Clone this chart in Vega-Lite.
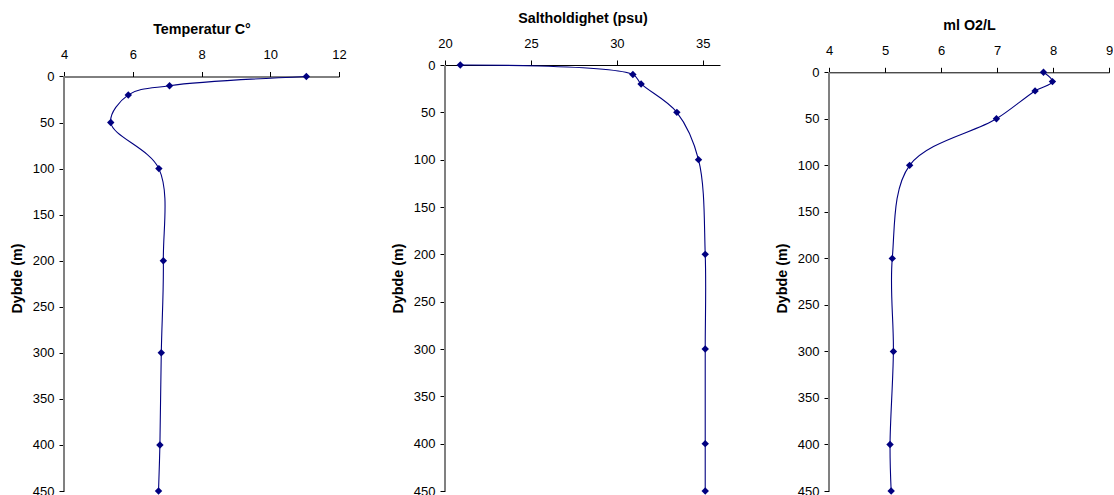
{
  "$schema": "https://vega.github.io/schema/vega-lite/v6.json",
  "background": "white",
  "padding": {"left": 10, "top": 11, "right": 0, "bottom": 0},
  "config": {
    "view": {"stroke": null},
    "font": "Liberation Sans",
    "axis": {
      "grid": false,
      "labelFontSize": 13,
      "labelColor": "#000000",
      "labelFlush": false,
      "labelOverlap": false,
      "labelBound": false,
      "tickColor": "#000000",
      "tickSize": 5,
      "titleFontSize": 14.3,
      "titleFontWeight": "bold",
      "titleColor": "#000000"
    },
    "axisX": {"orient": "top", "domainColor": "#000000", "labelPadding": 10, "titlePadding": 12},
    "axisY": {"domain": false, "labelPadding": 5, "titlePadding": 8}
  },
  "datasets": {
    "temp": [
      {"dybde": 0, "verdi": 11.05},
      {"dybde": 10, "verdi": 7.07},
      {"dybde": 20, "verdi": 5.87},
      {"dybde": 50, "verdi": 5.36},
      {"dybde": 100, "verdi": 6.76},
      {"dybde": 200, "verdi": 6.89},
      {"dybde": 300, "verdi": 6.83},
      {"dybde": 400, "verdi": 6.79},
      {"dybde": 450, "verdi": 6.75}
    ],
    "salt": [
      {"dybde": 0, "verdi": 20.89},
      {"dybde": 10, "verdi": 30.93},
      {"dybde": 20, "verdi": 31.41},
      {"dybde": 50, "verdi": 33.49},
      {"dybde": 100, "verdi": 34.75},
      {"dybde": 200, "verdi": 35.14},
      {"dybde": 300, "verdi": 35.14},
      {"dybde": 400, "verdi": 35.14},
      {"dybde": 450, "verdi": 35.14}
    ],
    "oksygen": [
      {"dybde": 0, "verdi": 7.83},
      {"dybde": 10, "verdi": 7.99},
      {"dybde": 20, "verdi": 7.68},
      {"dybde": 50, "verdi": 6.99},
      {"dybde": 100, "verdi": 5.44},
      {"dybde": 200, "verdi": 5.13},
      {"dybde": 300, "verdi": 5.15},
      {"dybde": 400, "verdi": 5.09},
      {"dybde": 450, "verdi": 5.11}
    ]
  },
  "spacing": 55,
  "hconcat": [
    {
      "spacing": 44,
      "hconcat": [
        {
          "width": 275,
          "height": 426,
          "data": {"name": "temp"},
          "encoding": {
            "x": {"field": "verdi", "type": "quantitative", "scale": {"domain": [4, 12], "nice": false, "zero": false}, "axis": {"values": [4, 6, 8, 10, 12], "title": "Temperatur C°", "offset": -11.5}},
            "y": {"field": "dybde", "type": "quantitative", "scale": {"domain": [-12.48, 450], "nice": false, "reverse": true}, "axis": {"values": [0, 50, 100, 150, 200, 250, 300, 350, 400, 450], "title": "Dybde (m)"}}
          },
          "layer": [
            {"mark": {"type": "rule", "color": "#808080", "strokeWidth": 1}, "encoding": {"x": {"datum": 4}, "y": {"datum": 0}, "y2": {"datum": 450}}},
            {"mark": {"type": "line", "interpolate": "catmull-rom", "color": "#000080", "strokeWidth": 1.1}, "encoding": {"order": {"field": "dybde", "type": "quantitative"}}},
            {"mark": {"type": "point", "shape": "diamond", "filled": true, "size": 55, "color": "#000080", "opacity": 1}}
          ]
        },
        {
          "width": 275,
          "height": 426,
          "data": {"name": "salt"},
          "encoding": {
            "x": {"field": "verdi", "type": "quantitative", "scale": {"domain": [20, 36], "nice": false, "zero": false}, "axis": {"values": [20, 25, 30, 35], "title": "Saltholdighet (psu)"}},
            "y": {"field": "dybde", "type": "quantitative", "scale": {"domain": [0, 450], "nice": false, "reverse": true}, "axis": {"values": [0, 50, 100, 150, 200, 250, 300, 350, 400, 450], "title": "Dybde (m)"}}
          },
          "layer": [
            {"mark": {"type": "rule", "color": "#808080", "strokeWidth": 1}, "encoding": {"x": {"datum": 20}, "y": {"datum": 0}, "y2": {"datum": 450}}},
            {"mark": {"type": "line", "interpolate": "catmull-rom", "color": "#000080", "strokeWidth": 1.1}, "encoding": {"order": {"field": "dybde", "type": "quantitative"}}},
            {"mark": {"type": "point", "shape": "diamond", "filled": true, "size": 55, "color": "#000080", "opacity": 1}}
          ]
        }
      ]
    },
    {
      "width": 280,
      "height": 426,
      "data": {"name": "oksygen"},
      "encoding": {
        "x": {"field": "verdi", "type": "quantitative", "scale": {"domain": [4, 9], "nice": false, "zero": false}, "axis": {"values": [4, 5, 6, 7, 8, 9], "title": "ml O2/L", "offset": -7.3}},
        "y": {"field": "dybde", "type": "quantitative", "scale": {"domain": [-7.85, 450], "nice": false, "reverse": true}, "axis": {"values": [0, 50, 100, 150, 200, 250, 300, 350, 400, 450], "title": "Dybde (m)"}}
      },
      "layer": [
        {"mark": {"type": "rule", "color": "#808080", "strokeWidth": 1}, "encoding": {"x": {"datum": 4}, "y": {"datum": 0}, "y2": {"datum": 450}}},
        {"mark": {"type": "line", "interpolate": "catmull-rom", "color": "#000080", "strokeWidth": 1.1}, "encoding": {"order": {"field": "dybde", "type": "quantitative"}}},
        {"mark": {"type": "point", "shape": "diamond", "filled": true, "size": 55, "color": "#000080", "opacity": 1}}
      ]
    }
  ]
}
